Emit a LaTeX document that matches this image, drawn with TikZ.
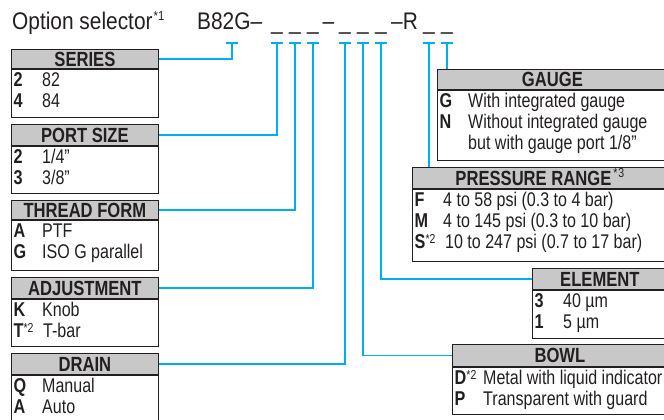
\documentclass[tikz,border=0pt]{standalone}
\usepackage{fontspec}
\setmainfont{Liberation Sans}[FakeStretch=0.81]
\newfontfamily\titlefont{Liberation Sans}[FakeStretch=0.87]
\usetikzlibrary{positioning}
\definecolor{leadcyan}{RGB}{0,174,239}
\definecolor{hdrgray}{RGB}{200,200,200}
\definecolor{ink}{RGB}{35,31,32}
\newcommand{\optsup}[2][5pt]{\raisebox{#1}{\fontsize{13}{13}\selectfont\mdseries #2}}

\begin{document}
\begin{tikzpicture}[x=1pt, y=-1pt,
    hdr/.style={draw=ink, fill=hdrgray, line width=0.8pt, inner sep=0pt, anchor=north west, text=ink,
      text height=14.6pt, text depth=0pt, font=\bfseries\fontsize{20.5}{22}\selectfont},
    body/.style={draw=ink, line width=0.8pt, inner sep=0pt, anchor=north west},
    key/.style={anchor=base west, inner sep=0pt, text=ink, font=\bfseries\fontsize{20}{21}\selectfont},
    val/.style={anchor=base west, inner sep=0pt, text=ink, font=\fontsize{19.8}{21}\selectfont},
    ttl/.style={anchor=base west, inner sep=0pt, text=ink, font=\titlefont\fontsize{24}{26}\selectfont},
    lead/.style={draw=leadcyan, line width=1.3pt}]
    \useasboundingbox (0,0) rectangle (664,420);

    % option code
    \node[ttl] (optsel) at (12,29.5) {Option selector\kern1pt\optsup[8.5pt]{*1}};
    \node[ttl] (code) at (197,29.5) {B82G–};
    \node[ttl] (dash2) at (322.5,29.5) {–};
    \node[ttl] (dashr) at (391,29.5) {–R};
    \node[ttl, anchor=base] (u1) at (277,29.5) {\_};
    \node[ttl, anchor=base] (u2) at (295,29.5) {\_};
    \node[ttl, anchor=base] (u3) at (313,29.5) {\_};
    \node[ttl, anchor=base] (u4) at (345,29.5) {\_};
    \node[ttl, anchor=base] (u5) at (363,29.5) {\_};
    \node[ttl, anchor=base] (u6) at (381,29.5) {\_};
    \node[ttl, anchor=base] (u7) at (429,29.5) {\_};
    \node[ttl, anchor=base] (u8) at (447,29.5) {\_};

    \coordinate (t1) at (232,43);
    \coordinate (t2) at (277,43);
    \coordinate (t3) at (295,43);
    \coordinate (t4) at (313,43);
    \coordinate (t5) at (345,43);
    \coordinate (t6) at (363,43);
    \coordinate (t7) at (381,43);
    \coordinate (t8) at (429,43);
    \coordinate (t9) at (447,43);
    \foreach \i in {1,...,9}
      \draw[lead] ([xshift=-6.3pt]t\i) -- ([xshift=6.3pt]t\i);

    %% left column
    \node[hdr, minimum width=147pt, minimum height=19pt] (series) at (11,49) {SERIES};
    \node[body, minimum width=147pt, minimum height=48pt] (series body) at (series.south west) {};
    \node[key] (series k1) at (13.5,86.5) {2};
    \node[val] (series v1) at (42,86.5) {82};
    \node[key] (series k2) at (13.5,107.5) {4};
    \node[val] (series v2) at (42,107.5) {84};

    \node[hdr, minimum width=147pt, minimum height=21pt] (port) at (11,124) {PORT SIZE};
    \node[body, minimum width=147pt, minimum height=47pt] (port body) at (port.south west) {};
    \node[key] (port k1) at (13.5,163.5) {2};
    \node[val] (port v1) at (42,163.5) {1/4”};
    \node[key] (port k2) at (13.5,184.5) {3};
    \node[val] (port v2) at (42,184.5) {3/8”};

    \node[hdr, minimum width=147pt, minimum height=19pt] (thread) at (11,200) {THREAD FORM};
    \node[body, minimum width=147pt, minimum height=50pt] (thread body) at (thread.south west) {};
    \node[key] (thread k1) at (13.5,237.5) {A};
    \node[val] (thread v1) at (42,237.5) {PTF};
    \node[key] (thread k2) at (13.5,258.5) {G};
    \node[val] (thread v2) at (42,258.5) {ISO G parallel};

    \node[hdr, minimum width=147pt, minimum height=21pt] (adjust) at (11,277) {ADJUSTMENT};
    \node[body, minimum width=147pt, minimum height=47pt] (adjust body) at (adjust.south west) {};
    \node[key] (adjust k1) at (13.5,316.5) {K};
    \node[val] (adjust v1) at (42,316.5) {Knob};
    \node[key] (adjust k2) at (13.5,337.5) {T\optsup{*2}};
    \node[val] (adjust v2) at (43,337.5) {T-bar};

    \node[hdr, minimum width=147pt, minimum height=21pt] (drain) at (11,353) {DRAIN};
    \node[body, minimum width=147pt, minimum height=52pt] (drain body) at (drain.south west) {};
    \node[key] (drain k1) at (13.5,392.5) {Q};
    \node[val] (drain v1) at (42,392.5) {Manual};
    \node[key] (drain k2) at (13.5,413.5) {A};
    \node[val] (drain v2) at (42,413.5) {Auto};

    %% right column
    \node[hdr, minimum width=230pt, minimum height=20pt] (gauge) at (437,69) {GAUGE};
    \node[body, minimum width=230pt, minimum height=70pt] (gauge body) at (gauge.south west) {};
    \node[key] (gauge k1) at (439.5,107.5) {G};
    \node[val] (gauge v1) at (468,107.5) {With integrated gauge};
    \node[key] (gauge k2) at (439.5,128.5) {N};
    \node[val] (gauge v2) at (468,128.5) {Without integrated gauge};
    \node[val] (gauge v3) at (468,149.5) {but with gauge port 1/8”};

    \node[hdr, minimum width=255pt, minimum height=21pt] (pressure) at (412,167) {PRESSURE RANGE\kern2pt\optsup[8pt]{*\kern1pt3}};
    \node[body, minimum width=255pt, minimum height=72pt] (pressure body) at (pressure.south west) {};
    \node[key] (pressure k1) at (414.5,206.5) {F};
    \node[val] (pressure v1) at (443,206.5) {4 to 58 psi (0.3 to 4 bar)};
    \node[key] (pressure k2) at (414.5,227.5) {M};
    \node[val] (pressure v2) at (443,227.5) {4 to 145 psi (0.3 to 10 bar)};
    \node[key] (pressure k3) at (414.5,248.5) {S\optsup{*2}};
    \node[val] (pressure v3) at (445,248.5) {10 to 247 psi (0.7 to 17 bar)};

    \node[hdr, minimum width=135pt, minimum height=21pt] (element) at (532,268) {ELEMENT};
    \node[body, minimum width=135pt, minimum height=48pt] (element body) at (element.south west) {};
    \node[key] (element k1) at (534.5,307.5) {3};
    \node[val] (element v1) at (563,307.5) {40 µm};
    \node[key] (element k2) at (534.5,328.5) {1};
    \node[val] (element v2) at (563,328.5) {5 µm};

    \node[hdr, minimum width=215pt, minimum height=22pt] (bowl) at (452,344) {BOWL};
    \node[body, minimum width=215pt, minimum height=47pt] (bowl body) at (bowl.south west) {};
    \node[key] (bowl k1) at (454.5,384.5) {D\optsup{*2}};
    \node[val] (bowl v1) at (483,384.5) {Metal with liquid indicator};
    \node[key] (bowl k2) at (454.5,405.5) {P};
    \node[val] (bowl v2) at (483,405.5) {Transparent with guard};

    %% leaders
    \draw[lead] (series.east) -| (t1);
    \draw[lead] (port.east) -| (t2);
    \draw[lead] (thread.east) -| (t3);
    \draw[lead] (adjust.east) -| (t4);
    \draw[lead] (drain.east) -| (t5);
    \draw[lead] (t6) |- (bowl.west);
    \draw[lead] (t7) |- (element.west);
    \draw[lead] (t8) -- (t8 |- pressure.north);
    \draw[lead] (t9) -- (t9 |- gauge.north);
\end{tikzpicture}
\end{document}
